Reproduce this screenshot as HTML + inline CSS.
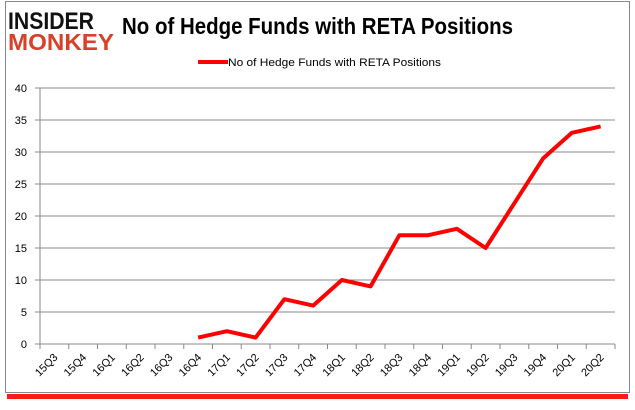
<!DOCTYPE html>
<html><head><meta charset="utf-8"><style>
body{margin:0;width:635px;height:405px;background:#fff;overflow:hidden;font-family:"Liberation Sans",sans-serif}
</style></head><body>
<svg width="635" height="405">
<rect x="7" y="394" width="621" height="5" fill="#f00" opacity="0.9"/>
<rect x="5.5" y="1.5" width="624" height="391" fill="#fff" stroke="#888" stroke-width="1"/>
<text x="8" y="29" font-size="24" font-weight="bold" fill="#111" textLength="86" lengthAdjust="spacingAndGlyphs">INSIDER</text>
<text x="8" y="50" font-size="23" font-weight="bold" fill="#d8402a" textLength="106" lengthAdjust="spacingAndGlyphs">MONKEY</text>
<text x="122" y="34" font-size="23" font-weight="bold" fill="#000" textLength="391" lengthAdjust="spacingAndGlyphs">No of Hedge Funds with RETA Positions</text>
<line x1="198" y1="62" x2="228" y2="62" stroke="#f00" stroke-width="4"/>
<text x="228" y="66" font-size="11" fill="#000" textLength="213" lengthAdjust="spacingAndGlyphs">No of Hedge Funds with RETA Positions</text>
<g id="axes"></g>
<g id="plot"></g>
</svg>
<script>
const categories=["15Q3","15Q4","16Q1","16Q2","16Q3","16Q4","17Q1","17Q2","17Q3","17Q4","18Q1","18Q2","18Q3","18Q4","19Q1","19Q2","19Q3","19Q4","20Q1","20Q2"];
const values=[null,null,null,null,null,1,2,1,7,6,10,9,17,17,18,15,22,29,33,34];
const yTicks=[0,5,10,15,20,25,30,35,40];
const NS="http://www.w3.org/2000/svg";
const x0=40,x1=615,y0=344,y1=88,yMax=40;
const bw=(x1-x0)/categories.length;
const xs=i=>x0+bw*(i+0.5);
const ys=v=>y0-(v/yMax)*(y0-y1);
const ax=document.getElementById('axes'),pl=document.getElementById('plot');
function mk(t,a,p){const e=document.createElementNS(NS,t);for(const k in a)e.setAttribute(k,a[k]);p.appendChild(e);return e;}
yTicks.forEach(v=>{
 const l=mk('line',{x1:x0-5,x2:x1,y1:ys(v),y2:ys(v),stroke:'#888','stroke-width':1},ax);
 
 
 const t=mk('text',{x:27,y:ys(v)+4,'font-size':11,'text-anchor':'end',fill:'#000'},ax);
 t.textContent=v;
 
 
});
const ya=mk('line',{x1:x0,x2:x0,y1:y1,y2:y0,stroke:'#888'},ax);


for(let i=0;i<=categories.length;i++){
 const tk=mk('line',{x1:x0+bw*i,x2:x0+bw*i,y1:y0,y2:y0+5,stroke:'#888'},ax);
 
 
}
categories.forEach((c,i)=>{
 const x=xs(i)+4,y=y0+14;
 const t=mk('text',{x:x,y:y,'font-size':11,'text-anchor':'end',fill:'#000',transform:`rotate(-45 ${x} ${y})`},ax);
 t.textContent=c;
 
 
});
let d='';
values.forEach((v,i)=>{if(v===null)return;d+=(d?'L':'M')+xs(i)+' '+ys(v);});
const p=mk('path',{d:d,fill:'none',stroke:'#f00','stroke-width':4,'stroke-linejoin':'round'},pl);


</script>
</body></html>
